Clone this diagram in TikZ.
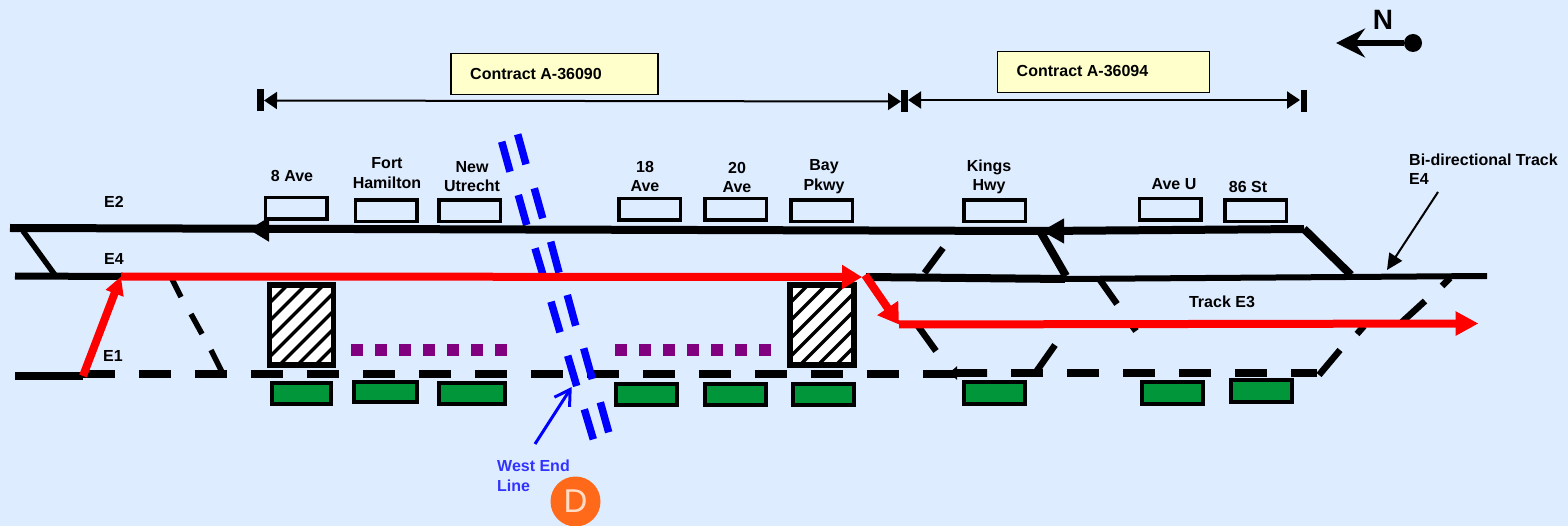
\documentclass[tikz,border=0pt]{standalone}
\usepackage{fontspec}
\setmainfont{Liberation Sans}
\usetikzlibrary{arrows.meta,calc}
\definecolor{bgblue}{HTML}{DEECFF}
\definecolor{signgreen}{HTML}{009639}
\definecolor{contractyellow}{HTML}{FFFFCC}
\definecolor{purpledot}{HTML}{800080}
\definecolor{westblue}{HTML}{3333FF}
\definecolor{dorange}{HTML}{FF6A1A}
\definecolor{dpeach}{HTML}{FFDCC6}
\tikzset{
  lbl/.style={font=\bfseries\fontsize{16}{19.5}\selectfont,inner sep=0pt,align=center,text=black},
  stationbox/.style={draw=black,line width=3.5pt,minimum width=61.5pt,minimum height=21.5pt,inner sep=0pt},
  greenbox/.style={draw=black,fill=signgreen,line width=4pt,minimum width=59pt,minimum height=20.5pt,inner sep=0pt},
  contractbox/.style={draw=black,fill=contractyellow,line width=1.5pt,inner sep=0pt,minimum height=41pt},
  hatchbox/.style={draw=black,fill=white,line width=5.5pt,inner sep=0pt,minimum width=64pt,minimum height=80pt,
    path picture={
      \foreach \k in {-80,-62,...,80}{
        \draw[black,line width=3.4pt] ($(path picture bounding box.south west)+(\k,0)$) -- ++(90,-90);
      }
    }},
  dotbox/.style={fill=purpledot,inner sep=0pt,minimum size=12pt},
  track/.style={black,line width=8pt},
  thintrack/.style={black,line width=6pt},
  switch/.style={black,line width=6.5pt},
  blueline/.style={blue,line width=7.5pt},
  redroute/.style={red,line width=8pt},
  dimline/.style={black,line width=2pt,{Triangle[length=13pt,width=17pt]}-{Triangle[length=13pt,width=17pt]}},
  tick/.style={black,line width=7pt}
}
\begin{document}
\begin{tikzpicture}[x=1pt,y=-1pt]
\useasboundingbox (0,0) rectangle (1568,526);
\fill[bgblue] (0,0) rectangle (1568,526);

% junctions
\coordinate (e2w) at (10,228);
\coordinate (e2j) at (1040,231);
\coordinate (e2e) at (1304,229);
\coordinate (x1a) at (23,231);
\coordinate (x1b) at (55,275);
\coordinate (e4w) at (15,276);
\coordinate (e4r) at (121,276.5);
\coordinate (e4m) at (866,277);
\coordinate (e4j) at (1065,279);
\coordinate (e4e) at (1487,276);
\coordinate (x2b) at (1351,275);
\coordinate (e1w) at (15,376);
\coordinate (e1r) at (83,376);
\coordinate (e1k) at (955,374);
\coordinate (e1s) at (1317,373);
\coordinate (e1t) at (987,373);
\coordinate (e1tip) at (949,373);
\coordinate (r2) at (899,324.5);
\coordinate (r3) at (1478.5,323.5);

% contract brackets
\node[contractbox,minimum width=207pt] (ca) at (554.5,74) {};
\node[lbl,anchor=west] (cat) at (470,74) {Contract A-36090};
\node[contractbox,minimum width=212pt] (cb) at (1103.5,72) {};
\node[lbl,anchor=west] (cbt) at (1016.5,71) {Contract A-36094};
\coordinate (d1a) at (264,100.5);
\coordinate (d1b) at (901,101.5);
\coordinate (d2a) at (908,100);
\coordinate (d2b) at (1300,100);
\coordinate (t1a) at (260.5,89); \coordinate (t1b) at (260.5,111);
\coordinate (t2a) at (904.5,90); \coordinate (t2b) at (904.5,112);
\coordinate (t3a) at (1303.5,90); \coordinate (t3b) at (1303.5,112);
\draw[dimline] (d1a) -- (d1b);
\draw[dimline] (d2a) -- (d2b);
\draw[tick] (t1a) -- (t1b);
\draw[tick] (t2a) -- (t2b);
\draw[tick,line width=6pt] (t3a) -- (t3b);

% north arrow
\node[circle,fill=black,inner sep=0pt,minimum size=18pt] (ndot) at (1413,43) {};
\coordinate (ntip) at (1336,43);
\draw[black,line width=6pt,-{Stealth[length=29pt,width=29pt,inset=10pt]}] (ndot) -- (ntip);
\node[lbl,font=\bfseries\fontsize{28}{28}\selectfont] (nlabel) at (1383,19.5) {N};

% stations, upper
\node[stationbox] (s1) at (296,208.5) {};
\node[stationbox] (s2) at (386,211) {};
\node[stationbox] (s3) at (469.5,211) {};
\node[stationbox] (s4) at (649.5,209.5) {};
\node[stationbox] (s5) at (735.5,209.5) {};
\node[stationbox] (s6) at (821.5,211) {};
\node[stationbox] (s7) at (994.5,211) {};
\node[stationbox] (s8) at (1170,209.5) {};
\node[stationbox] (s9) at (1255.5,211) {};

\node[lbl] (l1) at (292,176) {8 Ave};
\node[lbl] (l2) at (387,173) {Fort\\Hamilton};
\node[lbl] (l3) at (472,176.5) {New\\Utrecht};
\node[lbl] (l4) at (645,176.5) {18\\Ave};
\node[lbl] (l5) at (737,177.5) {20\\Ave};
\node[lbl] (l6) at (824,176.5) {Bay\\Pkwy};
\node[lbl] (l7) at (989,177) {Kings\\Hwy};
\node[lbl] (l8) at (1174,184) {Ave U};
\node[lbl] (l9) at (1248,187) {86 St};
\node[lbl] (e2l) at (114,202) {E2};
\node[lbl] (e4l) at (114,259) {E4};
\node[lbl] (e1l) at (113,356) {E1};
\node[lbl,anchor=west,align=left] (bi) at (1409,169) {Bi-directional Track\\E4};
\node[lbl] (e3l) at (1222,302) {Track E3};

% platforms lower
\node[greenbox] (g1) at (301,393.5) {};
\node[greenbox,minimum width=63pt] (g2) at (385.5,392) {};
\node[greenbox,minimum width=66pt] (g3) at (472,393.5) {};
\node[greenbox,minimum width=61pt] (g4) at (646.5,394.5) {};
\node[greenbox,minimum width=61pt] (g5) at (735.5,394.5) {};
\node[greenbox,minimum width=61pt] (g6) at (823.5,394.5) {};
\node[greenbox,minimum width=61pt,minimum height=22pt] (g7) at (994.5,393) {};
\node[greenbox,minimum width=61pt,minimum height=22pt] (g8) at (1172.5,393) {};
\node[greenbox,minimum width=61pt,minimum height=22pt] (g9) at (1261.5,391) {};

% hatched blocks
\node[hatchbox] (h1) at (301.5,325) {};
\node[hatchbox] (h2) at (822,325) {};

% purple dots
\foreach \i/\x in {1/357,2/381,3/405,4/429,5/453,6/477,7/501}{\node[dotbox] (pa\i) at (\x,350) {};}
\foreach \i/\x in {1/621,2/645,3/669,4/693,5/717,6/741,7/765}{\node[dotbox] (pb\i) at (\x,350) {};}

% E1 track
\draw[track] (e1w) -- (e1r);
\draw[track,dash pattern=on 32pt off 24pt] (83,374) -- (e1k);
\draw[track,dash pattern=on 32pt off 24pt,dash phase=6pt] (e1s) -- (e1t);
\draw[track,-{Triangle[length=8pt,width=13pt]}] (e1t) -- (e1tip);

% switches, dashed diagonals
\coordinate (wa) at (172,279); \coordinate (wb) at (181,297);
\coordinate (wc) at (191,314); \coordinate (wd) at (202,334);
\coordinate (we) at (211,350); \coordinate (wf) at (223,374);
\draw[switch,line width=5.5pt] (wa) -- (wb);
\draw[switch,line width=5.5pt] (wc) -- (wd);
\draw[switch,line width=5.5pt] (we) -- (wf);
\draw[switch] (924.5,273) -- (943,248);
\draw[switch] (918,326) -- (936,351);
\draw[switch] (1036,372) -- (1055,345);
\draw[switch] (1100,280) -- (1117,304);
\draw[switch] (1131,324) -- (1136,331);
\draw[switch] (1319,375) -- (1340,350);
\draw[switch] (1357,334) -- (1364,326);
\draw[switch] (1402,322) -- (1425,301);
\draw[switch] (1442,286) -- (1450,278);

% blue West End line
\foreach \xa/\ya/\xb/\yb in {
  501.7/141.7/510/171.7, 517.7/134.3/526/164.3,
  518.3/195/526.7/225, 534.3/188.3/542.7/218.3,
  535/248.3/543.3/276, 550.7/241.7/559/272.7,
  551/301.7/560/332.3, 567.3/295/575.7/325.7,
  567.7/355.7/576.7/386, 583.7/348.3/592.3/379,
  584.3/409.3/593.3/439.3, 600.3/402.3/608.7/432.3}{
  \draw[blueline] (\xa,\ya) -- (\xb,\yb);
}

% E2 and E4 tracks
\draw[track] (e2w) -- (e2j);
\draw[track] (e2j) -- (e2e);
\draw[black,-{Triangle[length=20pt,width=24pt]},line width=2pt] (274,229.5) -- (249,229.5);
\draw[black,-{Triangle[length=22pt,width=25pt]},line width=1pt] (1068,231) -- (1042,231);
\draw[switch,line width=5.5pt] (x1a) -- (x1b);
\draw[track,line width=7pt] (e4w) -- (e4r);
\draw[track] (e4m) -- (e4j);
\draw[thintrack] (e4j) -- (e4e);
\draw[track] (e2j) -- (1066,276);
\draw[track] (e2e) -- (x2b);

% bidirectional pointer
\coordinate (bia) at (1438,192);
\coordinate (bib) at (1387,270);
\draw[black,line width=2pt,-{Triangle[length=16pt,width=15pt]}] (bia) -- (bib);

% red route
\draw[redroute,-{Triangle[length=18pt,width=18pt]}] (e1r) -- (e4r);
\draw[redroute,-{Triangle[length=20pt,width=23pt]}] (e4r) -- (862,277);
\draw[redroute,-{Triangle[length=20pt,width=24pt]}] (865,275) -- (r2);
\draw[redroute,-{Triangle[length=23pt,width=23pt]}] (r2) -- (r3);

% West End label
\coordinate (wla) at (535,444);
\coordinate (wlb) at (571.7,387);
\draw[blue,line width=3pt,-{Straight Barb[length=15pt,width=18pt,line width=3pt]}] (wla) -- (wlb);
\node[lbl,text=westblue,anchor=west,align=left] (west) at (497,476) {West End\\Line};
\node[circle,fill=dorange,inner sep=0pt,minimum size=50pt,text=dpeach,font=\fontsize{33}{33}\selectfont] (dsign) at (575.5,501.5) {D};
\end{tikzpicture}
\end{document}
